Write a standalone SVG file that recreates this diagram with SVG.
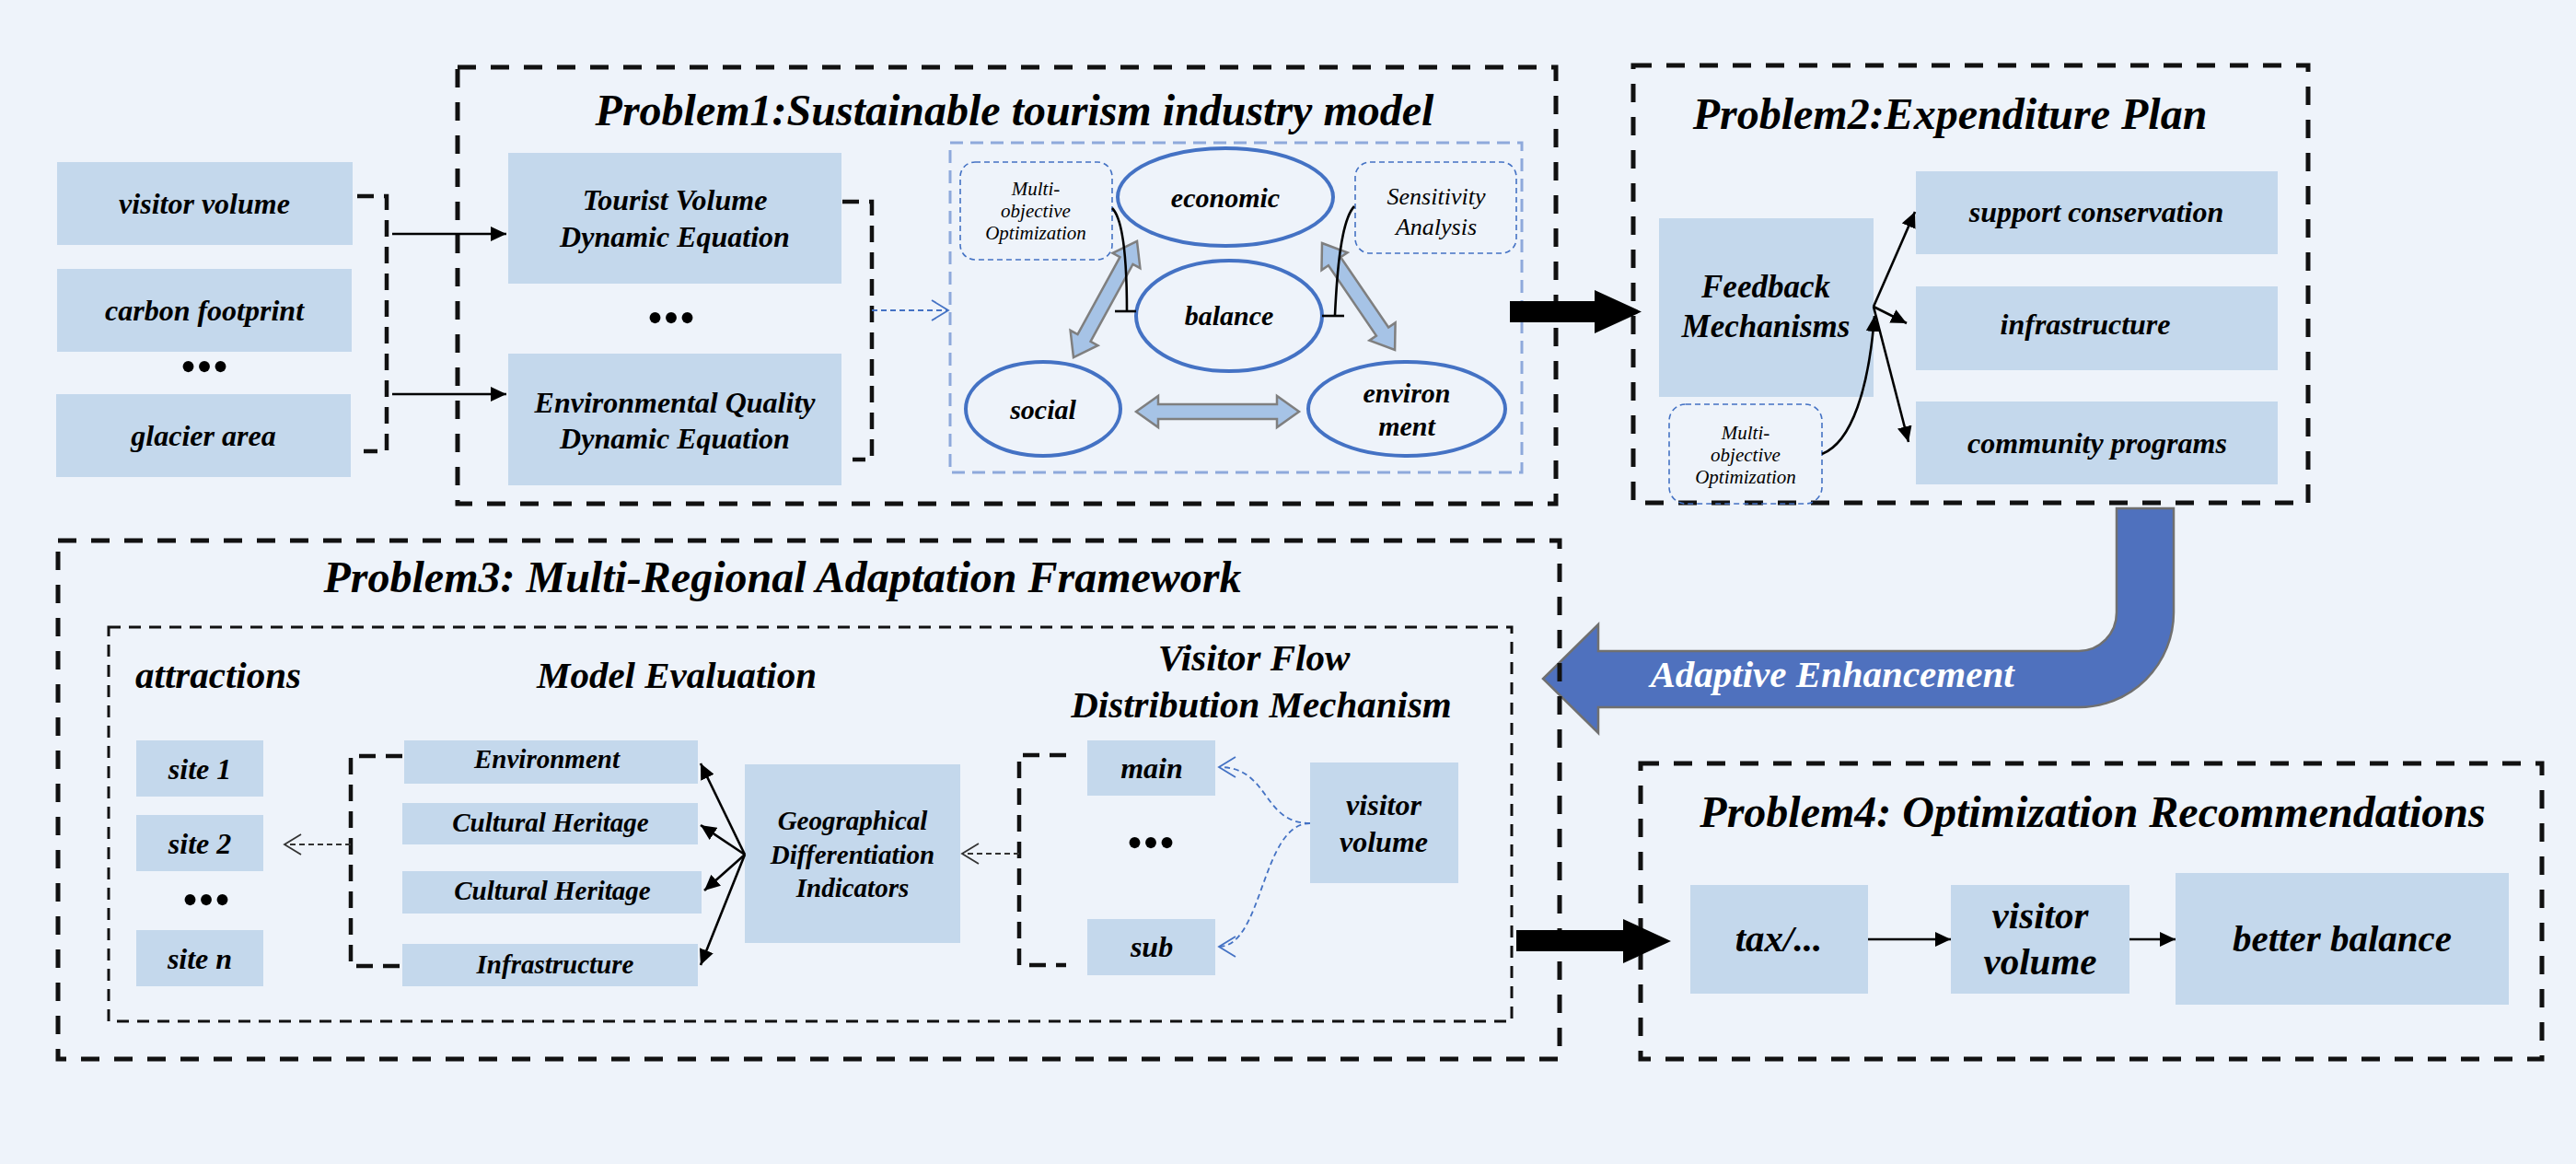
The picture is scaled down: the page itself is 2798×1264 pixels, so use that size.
<svg xmlns="http://www.w3.org/2000/svg" width="2798" height="1264" viewBox="0 0 2798 1264">
<defs>
<style>
.t{font-family:"Liberation Serif","Times New Roman",serif;font-weight:bold;font-style:italic;fill:#000;text-anchor:middle}
.n{font-weight:normal}
.f21{font-size:21px}.f26{font-size:26px}.f29{font-size:29px}.f30{font-size:30px}.f32{font-size:32px}.f35{font-size:35px}.f41{font-size:41px}.f48{font-size:48px}
.dots{font-family:"Liberation Serif",serif;font-size:50px;fill:#000;text-anchor:middle}
.node{fill:#C4D8EC}
.frame{fill:none;stroke:#111;stroke-width:5;stroke-dasharray:20 16}
.inner{fill:none;stroke:#111;stroke-width:3;stroke-dasharray:13 9}
.blueframe{fill:none;stroke:#8EA9DB;stroke-width:3;stroke-dasharray:14 8}
.note{fill:none;stroke:#4472C4;stroke-width:1.6;stroke-dasharray:6 4}
.ell{fill:none;stroke:#4472C4;stroke-width:4}
.dbl{fill:#A6C3E6;stroke:#7F7F7F;stroke-width:2.5}
.brk{fill:none;stroke:#111;stroke-width:4.5;stroke-dasharray:18 11}
.line{fill:none;stroke:#000;stroke-width:2.6}
.bdash{fill:none;stroke:#4472C4;stroke-width:1.8;stroke-dasharray:6 4}
.gdash{fill:none;stroke:#333;stroke-width:1.8;stroke-dasharray:6 4}
</style>
<marker id="ah" markerUnits="userSpaceOnUse" markerWidth="18" markerHeight="16" refX="17" refY="8" orient="auto">
<path d="M0,0 L17,8 L0,16 Z" fill="#000"/>
</marker>
<marker id="chB" markerUnits="userSpaceOnUse" markerWidth="22" markerHeight="24" refX="19" refY="12" orient="auto">
<path d="M1,1 L19,12 L1,23" fill="none" stroke="#4472C4" stroke-width="1.8"/>
</marker>
<marker id="chG" markerUnits="userSpaceOnUse" markerWidth="22" markerHeight="24" refX="19" refY="12" orient="auto">
<path d="M1,1 L19,12 L1,23" fill="none" stroke="#333" stroke-width="1.8"/>
</marker>
</defs>
<rect width="2798" height="1264" fill="#EEF3FA"/>

<g id="adaptive">
<path fill="#4F71BE" stroke="#707070" stroke-width="2.5" d="M2299,552 H2361 V665 A103,103 0 0 1 2258,768 H1736 V796 L1676,737 L1736,678 V707 H2258 A41,42 0 0 0 2299,665 Z"/>
<text class="t f41" x="1990" y="746" style="fill:#fff">Adaptive Enhancement</text>
</g>

<g id="inputs">
<g id="in-visitor"><rect class="node" x="62" y="176" width="321" height="90"/><text class="t f32" x="222" y="232">visitor volume</text></g>
<g id="in-carbon"><rect class="node" x="62" y="292" width="320" height="90"/><text class="t f32" x="222" y="348">carbon footprint</text></g>
<text class="dots" x="222" y="415">•••</text>
<g id="in-glacier"><rect class="node" x="61" y="428" width="320" height="90"/><text class="t f32" x="221" y="484">glacier area</text></g>
</g>

<g id="problem1">
<rect class="frame" x="497" y="73" width="1193" height="474"/>
<text class="t f48" x="1102" y="136">Problem1:Sustainable tourism industry model</text>
<g id="p1-tourist"><rect class="node" x="552" y="166" width="362" height="142"/><text class="t f32" x="733" y="228">Tourist Volume</text><text class="t f32" x="733" y="268">Dynamic Equation</text></g>
<text class="dots" x="729" y="362">•••</text>
<g id="p1-env"><rect class="node" x="552" y="384" width="362" height="143"/><text class="t f32" x="733" y="448">Environmental Quality</text><text class="t f32" x="733" y="487">Dynamic Equation</text></g>
<rect class="blueframe" x="1032" y="155" width="621" height="358"/>
<g id="p1-multi"><rect class="note" x="1043" y="176" width="165" height="106" rx="16"/><text class="t n f21" x="1125" y="212">Multi-</text><text class="t n f21" x="1125" y="236">objective</text><text class="t n f21" x="1125" y="260">Optimization</text></g>
<g id="p1-sens"><rect class="note" x="1472" y="176" width="175" height="99" rx="16"/><text class="t n f26" x="1560" y="222">Sensitivity</text><text class="t n f26" x="1560" y="255">Analysis</text></g>
<g id="p1-economic"><ellipse class="ell" cx="1331" cy="214" rx="117" ry="53"/><text class="t f30" x="1331" y="225">economic</text></g>
<g id="p1-balance"><ellipse class="ell" cx="1335" cy="343" rx="101" ry="60"/><text class="t f30" x="1335" y="353">balance</text></g>
<g id="p1-social"><ellipse class="ell" cx="1133" cy="444" rx="84" ry="51"/><text class="t f30" x="1133" y="455">social</text></g>
<g id="p1-environment"><ellipse class="ell" cx="1528" cy="444" rx="107" ry="51"/><text class="t f30" x="1528" y="437">environ</text><text class="t f30" x="1528" y="473">ment</text></g>
</g>

<g id="problem2">
<rect class="frame" x="1774" y="71" width="733" height="475"/>
<text class="t f48" x="2118" y="140">Problem2:Expenditure Plan</text>
<g id="p2-feedback"><rect class="node" x="1802" y="237" width="233" height="194"/><text class="t f35" x="1918" y="323">Feedback</text><text class="t f35" x="1918" y="366">Mechanisms</text></g>
<g id="p2-support"><rect class="node" x="2081" y="186" width="393" height="90"/><text class="t f32" x="2277" y="241">support conservation</text></g>
<g id="p2-infra"><rect class="node" x="2081" y="311" width="393" height="91"/><text class="t f32" x="2265" y="363">infrastructure</text></g>
<g id="p2-community"><rect class="node" x="2081" y="436" width="393" height="90"/><text class="t f32" x="2278" y="492">community programs</text></g>
<g id="p2-multi"><rect class="note" x="1813" y="439" width="166" height="108" rx="18"/><text class="t n f21" x="1896" y="477">Multi-</text><text class="t n f21" x="1896" y="501">objective</text><text class="t n f21" x="1896" y="525">Optimization</text></g>
</g>

<g id="problem3">
<rect class="frame" x="63" y="587" width="1631" height="563"/>
<text class="t f48" x="850" y="643">Problem3: Multi-Regional Adaptation Framework</text>
<rect class="inner" x="118" y="681" width="1524" height="428"/>
<text class="t f41" x="237" y="747">attractions</text>
<text class="t f41" x="735" y="747">Model Evaluation</text>
<text class="t f41" x="1362" y="728">Visitor Flow</text>
<text class="t f41" x="1370" y="779">Distribution Mechanism</text>
<g id="p3-site1"><rect class="node" x="148" y="804" width="138" height="61"/><text class="t f32" x="217" y="846">site 1</text></g>
<g id="p3-site2"><rect class="node" x="148" y="885" width="138" height="61"/><text class="t f32" x="217" y="927">site 2</text></g>
<text class="dots" x="224" y="994">•••</text>
<g id="p3-siten"><rect class="node" x="148" y="1010" width="138" height="61"/><text class="t f32" x="217" y="1052">site n</text></g>
<g id="p3-environment"><rect class="node" x="439" y="804" width="319" height="47"/><text class="t f29" x="594" y="834">Environment</text></g>
<g id="p3-heritage1"><rect class="node" x="437" y="872" width="321" height="45"/><text class="t f29" x="598" y="903">Cultural Heritage</text></g>
<g id="p3-heritage2"><rect class="node" x="437" y="946" width="325" height="46"/><text class="t f29" x="600" y="977">Cultural Heritage</text></g>
<g id="p3-infra"><rect class="node" x="437" y="1025" width="321" height="46"/><text class="t f29" x="603" y="1057">Infrastructure</text></g>
<g id="p3-geo"><rect class="node" x="809" y="830" width="234" height="194"/><text class="t f29" x="926" y="901">Geographical</text><text class="t f29" x="926" y="938">Differentiation</text><text class="t f29" x="926" y="974">Indicators</text></g>
<g id="p3-main"><rect class="node" x="1181" y="804" width="139" height="60"/><text class="t f32" x="1251" y="845">main</text></g>
<text class="dots" x="1250" y="932">•••</text>
<g id="p3-sub"><rect class="node" x="1181" y="998" width="139" height="61"/><text class="t f32" x="1251" y="1039">sub</text></g>
<g id="p3-visitor"><rect class="node" x="1423" y="828" width="161" height="131"/><text class="t f32" x="1503" y="885">visitor</text><text class="t f32" x="1503" y="925">volume</text></g>
</g>

<g id="problem4">
<rect class="frame" x="1782" y="829" width="979" height="321"/>
<text class="t f48" x="2273" y="898">Problem4: Optimization Recommendations</text>
<g id="p4-tax"><rect class="node" x="1836" y="961" width="193" height="118"/><text class="t f41" x="1932" y="1033">tax/...</text></g>
<g id="p4-visitor"><rect class="node" x="2119" y="961" width="194" height="118"/><text class="t f41" x="2216" y="1008">visitor</text><text class="t f41" x="2216" y="1058">volume</text></g>
<g id="p4-better"><rect class="node" x="2363" y="948" width="362" height="143"/><text class="t f41" x="2544" y="1033">better balance</text></g>
</g>

<g id="connectors">
<path class="brk" d="M388,213 H420 V490 H395"/>
<path class="line" d="M426,254 H550" marker-end="url(#ah)"/>
<path class="line" d="M426,428 H550" marker-end="url(#ah)"/>
<path class="brk" d="M915,219 H947 V499 H926"/>
<path class="bdash" d="M947,337 H1030" marker-end="url(#chB)"/>
<polygon class="dbl" transform="translate(1166,388) rotate(-61.3)" points="0,0 24,-17 24,-8 119.7,-8 119.7,-17 143.7,0 119.7,17 119.7,8 24,8 24,17"/>
<polygon class="dbl" transform="translate(1436,264) rotate(55.7)" points="0,0 24,-17 24,-8 116.3,-8 116.3,-17 140.3,0 116.3,17 116.3,8 24,8 24,17"/>
<polygon class="dbl" transform="translate(1234,447)" points="0,0 24,-17 24,-8 153,-8 153,-17 177,0 153,17 153,8 24,8 24,17"/>
<path class="line" d="M1208,226 C1222,240 1224,300 1224,338"/>
<path class="line" stroke-width="3.5" d="M1211,338 H1234"/>
<path class="line" d="M1471,224 C1456,240 1452,300 1450,342"/>
<path class="line" stroke-width="3.5" d="M1436,343 H1460"/>
<polygon fill="#000" points="1640,327 1732,327 1732,315 1783,338.5 1732,362 1732,350 1640,350"/>
<path class="line" d="M2035,333 L2080,230" marker-end="url(#ah)"/>
<path class="line" d="M2035,333 L2071,351" marker-end="url(#ah)"/>
<path class="line" d="M2035,333 L2073,480" marker-end="url(#ah)"/>
<path class="line" d="M1979,493 C2012,480 2030,420 2036,343" marker-end="url(#ah)"/>
<path class="brk" d="M437,821 H381 V1049 H437"/>
<path class="gdash" d="M381,917 H309" marker-end="url(#chG)"/>
<path class="line" d="M809,928 L761,829" marker-end="url(#ah)"/>
<path class="line" d="M809,928 L761,896" marker-end="url(#ah)"/>
<path class="line" d="M809,928 L765,967" marker-end="url(#ah)"/>
<path class="line" d="M809,928 L761,1048" marker-end="url(#ah)"/>
<path class="brk" d="M1158,820 H1107 V1048 H1158"/>
<path class="gdash" d="M1107,927 H1045" marker-end="url(#chG)"/>
<path class="bdash" d="M1423,894 C1370,894 1380,833 1324,833" marker-end="url(#chB)"/>
<path class="bdash" d="M1423,894 C1370,894 1372,1028 1324,1028" marker-end="url(#chB)"/>
<polygon fill="#000" points="1647,1010 1763,1010 1763,998 1815,1022 1763,1046 1763,1033 1647,1033"/>
<path class="line" d="M2029,1020 H2119" marker-end="url(#ah)"/>
<path class="line" d="M2313,1020 H2363" marker-end="url(#ah)"/>
</g>
</svg>
